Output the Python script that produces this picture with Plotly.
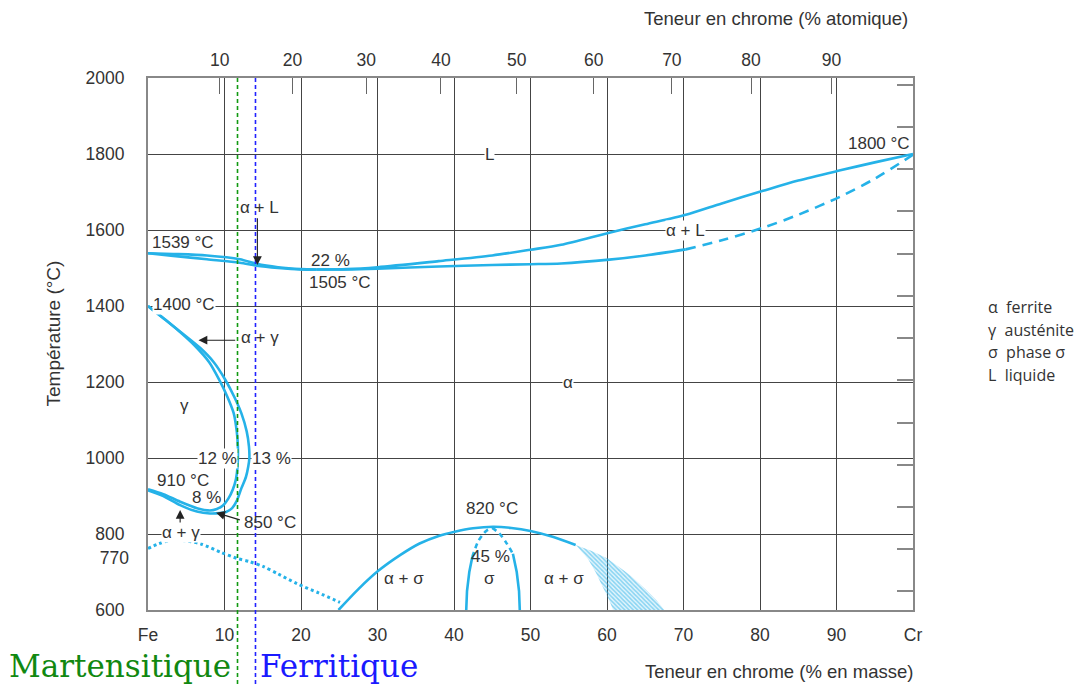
import plotly.graph_objects as go

# ---------------- data ----------------
mass_ticks = [0, 10, 20, 30, 40, 50, 60, 70, 80, 90, 100]
mass_labels = ["Fe", "10", "20", "30", "40", "50", "60", "70", "80", "90", "Cr"]
atomic_ticks = [10, 20, 30, 40, 50, 60, 70, 80, 90]
M_CR, M_FE = 52.00, 55.85
temp_ticks = [600, 800, 1000, 1200, 1400, 1600, 1800, 2000]
temp_extra = [770]
fahr_ticks = [1200, 1400, 1600, 1800, 2000, 2200, 2400, 2600, 2800, 3000, 3200, 3400, 3600]

# liquidus / solidus, Fe side
liqL_x = [0, 3.3, 7.7, 12, 14.2, 17, 20, 22]
liqL_T = [1539, 1537, 1533, 1523, 1511, 1502, 1497, 1496]
solL_x = [0, 3.3, 7.7, 12, 14.2, 17, 20, 22]
solL_T = [1539, 1532, 1523, 1514, 1506, 1500, 1496, 1496]
# liquidus, Cr side
liqR_x = [22, 26, 30, 38, 45, 50, 54, 60.3, 65, 70.3, 75, 80.4, 85, 90.5, 95, 100]
liqR_T = [1496, 1497, 1502, 1518, 1533, 1548, 1561, 1593, 1615, 1640, 1670, 1703, 1730, 1757, 1778, 1800]
# solidus, Cr side (solid then dashed)
solR_x = [22, 26, 30, 38, 45, 50, 54, 60.3, 65, 70.3]
solR_T = [1496, 1496, 1498, 1504, 1508, 1510, 1512, 1522, 1533, 1549]
solRd_x = [70.3, 75, 80.4, 85, 90.5, 95, 100]
solRd_T = [1549, 1573, 1606, 1640, 1688, 1735, 1798]

# gamma loop
gin_x = [0, 2, 4, 6.1, 8, 9.3, 10.4, 11.2, 11.6, 11.75, 11.7, 11.5, 11.1, 10.5, 9.8, 9.0, 8.1, 6.4, 4.2, 2, 0]
gin_T = [1400, 1368, 1335, 1296, 1252, 1206, 1160, 1118, 1070, 1030, 977, 945, 918, 893, 875, 866, 862, 868, 885, 905, 918]
gout_x = [0, 2.2, 4.3, 6.8, 8.6, 10.1, 11.3, 12.2, 12.9, 13.2, 13.25, 13.1, 12.8, 12.2, 11.6, 11.0, 10.2, 9.4, 8.1, 6.4, 4.2, 2, 0]
gout_T = [1400, 1365, 1331, 1290, 1252, 1206, 1160, 1118, 1070, 1030, 1000, 977, 950, 920, 887, 868, 858, 855, 854, 859, 876, 900, 915]

# magnetic transition (dotted)
mag_x = [0, 1.5, 3.3, 5, 7, 9.5, 11.6, 13.3, 15.1, 17, 19.4, 22.3, 25.1]
mag_T = [762, 775, 784, 782, 773, 752, 736, 727, 714, 695, 670, 645, 620]

# alpha + sigma dome
dome_x = [24.9, 27.5, 30.1, 33, 35.5, 38, 40.1, 42.5, 45.1, 47.5, 50, 53, 55.9]
dome_T = [600, 655, 703, 745, 775, 795, 806, 815, 819, 816, 808, 792, 771]
hatch_x = [55.9, 58, 60, 61.5, 63, 65, 66.5, 67.5, 60.8, 60.3, 59.5, 58.5, 57.5, 55.9]
hatch_T = [771, 755, 736, 715, 692, 655, 625, 600, 600, 625, 660, 700, 735, 771]

# sigma phase
sigLs_x = [41.6, 41.7, 42.0, 42.4]
sigLs_T = [600, 650, 700, 740]
sigLd_x = [42.4, 43.2, 44.2, 45]
sigLd_T = [740, 782, 808, 816]
sigRd_x = [45, 45.9, 46.8, 47.7]
sigRd_T = [816, 802, 778, 748]
sigRs_x = [47.7, 48.2, 48.5, 48.6]
sigRs_T = [748, 700, 650, 600]

# steel limits
martensitic_limit = 11.7
ferritic_limit = 14.05

# labels: (text, x, T, white background)
labels = [
    ("L", 44.6, 1800, True), ("α", 54.9, 1200, True), ("α + L", 70.2, 1600, True),
    ("α + L", 14.6, 1660, False), ("α + γ", 14.7, 1318, False), ("γ", 4.8, 1137, False),
    ("12 %", 9.1, 1000, True), ("13 %", 16.2, 1000, True), ("910 °C", 4.6, 942, False),
    ("8 %", 7.7, 897, False), ("850 °C", 15.9, 829, False), ("α + γ", 4.3, 803, True),
    ("1539 °C", 4.6, 1568, False), ("1400 °C", 4.7, 1403, True), ("22 %", 23.8, 1521, False),
    ("1505 °C", 25.1, 1463, False), ("1800 °C", 95.6, 1827, False), ("820 °C", 45.0, 868, False),
    ("45 %", 44.8, 740, False), ("α + σ", 33.5, 684, False), ("σ", 44.7, 684, False),
    ("α + σ", 54.4, 684, False),
]
# arrows: (tip x, tip T, tail x, tail T)
arrows = [
    (14.3, 1508, 14.3, 1635),
    (6.6, 1310, 11.6, 1310),
    (8.9, 856, 12.2, 836),
    (4.2, 863, 4.2, 826),
]
legend_lines = ["α  ferrite", "γ  austénite", "σ  phase σ", "L  liquide"]

# ---------------- figure ----------------
BLUE = "#25b2e8"
TXT = "#333333"
FONT = "Liberation Sans, Arial, sans-serif"
OFF = 8  # page body margin

fig = go.Figure()

def line(x, y, dash="solid", width=2.6, shape="spline"):
    fig.add_trace(go.Scatter(x=x, y=y, mode="lines", hoverinfo="skip", showlegend=False,
                             line=dict(color=BLUE, width=width, dash=dash, shape=shape, smoothing=0.8)))

line(liqL_x, liqL_T)
line(solL_x, solL_T)
line(liqR_x, liqR_T)
line(solR_x, solR_T)
line(solRd_x, solRd_T, dash="10px,7px")
line(gin_x, gin_T)
line(gout_x, gout_T)
line(mag_x, mag_T, dash="dot", width=3)
line(dome_x, dome_T)
line(sigLs_x, sigLs_T, shape="linear")
line(sigLd_x, sigLd_T, dash="5px,4px")
line(sigRd_x, sigRd_T, dash="5px,4px")
line(sigRs_x, sigRs_T, shape="linear")

fig.add_trace(go.Scatter(x=hatch_x, y=hatch_T, mode="lines", fill="toself", hoverinfo="skip",
                         showlegend=False, line=dict(width=0, color=BLUE),
                         fillcolor="rgba(0,0,0,0)",
                         fillpattern=dict(shape="\\", fgcolor=BLUE, bgcolor="rgba(37,178,232,0.12)",
                                          size=3, solidity=0.5)))

# dummy traces so the extra axes are drawn
fig.add_trace(go.Scatter(x=[None], y=[None], xaxis="x2", yaxis="y", showlegend=False))
fig.add_trace(go.Scatter(x=[None], y=[None], xaxis="x", yaxis="y2", showlegend=False))
fig.add_trace(go.Scatter(x=[None], y=[None], xaxis="x", yaxis="y3", showlegend=False))

atomic_pos = [a * M_CR / (a * M_CR + (100 - a) * M_FE) * 100 for a in atomic_ticks]

anns = []
for text, x, T, bg in labels:
    anns.append(dict(x=x, y=T, xref="x", yref="y", text=text, showarrow=False,
                     font=dict(family=FONT, size=17, color=TXT),
                     bgcolor="white" if bg else None, borderpad=0))
for tx, tT, sx, sT in arrows:
    anns.append(dict(x=tx, y=tT, ax=sx, ay=sT, xref="x", yref="y", axref="x", ayref="y",
                     text="", showarrow=True, arrowhead=2, arrowsize=1.6, arrowwidth=1.1,
                     arrowcolor="#222"))
for i, t in enumerate(legend_lines):
    anns.append(dict(x=(986 - 148) / 765, y=(610 - (307 + 22.7 * i)) / 532, xref="paper", yref="paper",
                     text=t, showarrow=False, xanchor="left", yanchor="middle",
                     font=dict(family="Open Sans, sans-serif", size=16, color=TXT)))
anns += [
    dict(x=(915 - 148) / 765, y=(610 - 671) / 532, xref="paper", yref="paper", xanchor="right",
         yanchor="middle", text="Teneur en chrome (% en masse)", showarrow=False,
         font=dict(family=FONT, size=18.5, color=TXT)),
    dict(x=(910 - 148) / 765, y=(610 - 18) / 532, xref="paper", yref="paper", xanchor="right",
         yanchor="middle", text="Teneur en chrome (% atomique)", showarrow=False,
         font=dict(family=FONT, size=18.5, color=TXT)),
    dict(x=(40 - 148) / 765, y=(610 - 334) / 532, xref="paper", yref="paper", textangle=-90,
         text="Température (°C)", showarrow=False, font=dict(family=FONT, size=19, color=TXT)),
    dict(x=(233 - 148) / 765, y=(610 - 666) / 532, xref="paper", yref="paper", xanchor="right",
         yanchor="middle", text="Martensitique", showarrow=False,
         font=dict(family="DejaVu Serif, serif", size=31, color="#118811")),
    dict(x=(258 - 148) / 765, y=(610 - 666) / 532, xref="paper", yref="paper", xanchor="left",
         yanchor="middle", text="Ferritique", showarrow=False,
         font=dict(family="DejaVu Serif, serif", size=31, color="#1a1aff")),
]

shapes = [
    dict(type="line", xref="paper", yref="paper", x0=martensitic_limit / 100, x1=martensitic_limit / 100,
         y0=-74 / 532, y1=1, line=dict(color="#119911", width=1.6, dash="4px,3px")),
    dict(type="line", xref="paper", yref="paper", x0=ferritic_limit / 100, x1=ferritic_limit / 100,
         y0=-74 / 532, y1=1, line=dict(color="#2222ff", width=1.6, dash="4px,3px")),
]

fig.update_layout(
    width=1087 - OFF, height=684 - OFF, margin=dict(l=148 - OFF, r=174, t=78 - OFF, b=74),
    paper_bgcolor="white", plot_bgcolor="white", showlegend=False,
    annotations=anns, shapes=shapes,
    xaxis=dict(range=[0, 100], tickvals=mass_ticks, ticktext=mass_labels, showgrid=True,
               gridcolor="#444", gridwidth=1, zeroline=False, showline=True, linecolor="#888",
               linewidth=2, mirror=True, ticks="", ticklabelstandoff=8,
               tickfont=dict(family=FONT, size=17.5, color=TXT)),
    xaxis2=dict(range=[0, 100], overlaying="x", side="top", tickvals=atomic_pos,
                ticktext=[str(a) for a in atomic_ticks], ticks="inside", ticklen=16,
                tickcolor="#666", tickwidth=1, showgrid=False, zeroline=False, showline=False,
                ticklabelstandoff=8, tickfont=dict(family=FONT, size=17.5, color=TXT)),
    yaxis=dict(range=[600, 2000], tickvals=temp_ticks, showgrid=True, gridcolor="#444",
               gridwidth=1, zeroline=False, showline=True, linecolor="#888", linewidth=2,
               mirror=True, ticks="", ticklabelstandoff=18,
               tickfont=dict(family=FONT, size=17.5, color=TXT)),
    yaxis2=dict(range=[600 * 9 / 5 + 32, 2000 * 9 / 5 + 32], overlaying="y", side="right",
                tickvals=fahr_ticks, showticklabels=False, ticks="inside", ticklen=16,
                tickcolor="#888", tickwidth=1.5, showgrid=False, zeroline=False, showline=False),
    yaxis3=dict(range=[600, 2000], overlaying="y", side="left", tickvals=temp_extra,
                showgrid=False, zeroline=False, showline=False, ticks="", ticklabelstandoff=18,
                ticklabelshift=12, tickfont=dict(family=FONT, size=17.5, color=TXT)),
)

fig.write_html("out.html")
